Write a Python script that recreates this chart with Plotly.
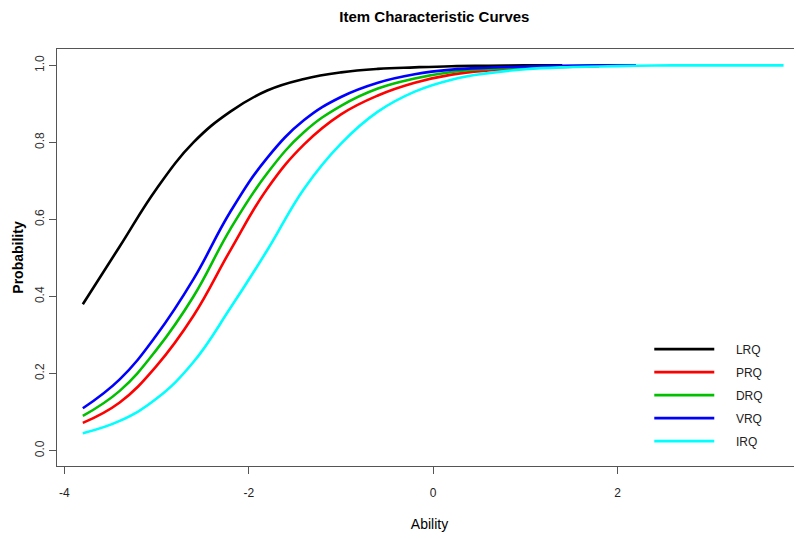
import plotly.graph_objects as go

# ability grid (step 0.4) and item probabilities
ability = [-3.8, -3.4, -3.0, -2.6, -2.2, -1.8, -1.4, -1.0, -0.6, -0.2,
           0.2, 0.6, 1.0, 1.4, 1.8, 2.2, 2.6, 3.0, 3.4, 3.8]

lrq = [0.38, 0.53, 0.68, 0.80, 0.88, 0.935, 0.965, 0.982, 0.991, 0.995,
       0.998, 0.999, 1.0, 1.0]
prq = [0.072, 0.125, 0.22, 0.35, 0.52, 0.68, 0.795, 0.873, 0.922, 0.955,
       0.976, 0.987, 0.993, 0.996, 0.998]
drq = [0.09, 0.155, 0.262, 0.40, 0.575, 0.72, 0.827, 0.895, 0.94, 0.966,
       0.983, 0.991, 0.995, 0.998, 0.999]
vrq = [0.11, 0.185, 0.30, 0.445, 0.62, 0.76, 0.858, 0.918, 0.955, 0.977,
       0.989, 0.994, 0.997, 0.999, 1.0, 1.0]
irq = [0.045, 0.077, 0.135, 0.23, 0.37, 0.52, 0.68, 0.797, 0.88, 0.932,
       0.963, 0.980, 0.990, 0.995, 0.997, 0.999, 1.0, 1.0, 1.0, 1.0]

series = [
    ("LRQ", lrq, "#000000"),
    ("PRQ", prq, "#ff0000"),
    ("DRQ", drq, "#00c000"),
    ("VRQ", vrq, "#0000ff"),
    ("IRQ", irq, "#00ffff"),
]

x_ticks = [-4, -2, 0, 2, 4]
x_ticktext = ["-4", "-2", "0", "2", "4"]
y_ticks = [0, 0.2, 0.4, 0.6, 0.8, 1.0]
y_ticktext = ["0.0", "0.2", "0.4", "0.6", "0.8", "1.0"]

narrow = "Liberation Sans Narrow, Arial Narrow, Liberation Sans, Arial"
regular = "Liberation Sans, Arial"
axis_col = "#555555"

fig = go.Figure()
for name, vals, col in series:
    fig.add_trace(go.Scatter(
        x=ability[:len(vals)], y=vals, mode="lines",
        name="\u00a0\u00a0\u00a0\u00a0\u00a0" + name, legendgroup=name,
        line=dict(color=col, width=2.6, shape="spline", smoothing=1.2)
    ))

# page body has an 8px margin: figure is sized to fit inside the window
fig.update_layout(
    width=794, height=531,
    margin=dict(l=49, r=0, t=41, b=73),
    plot_bgcolor="white", paper_bgcolor="white",
    title=dict(text="<b>Item Characteristic Curves</b>", x=0.537, xanchor="center",
               xref="container", y=0.983, yanchor="middle", yref="container",
               font=dict(family=narrow, size=15, color="#000000")),
    showlegend=True,
    legend=dict(x=0.795, y=0.315, xanchor="left", yanchor="top",
                bgcolor="rgba(0,0,0,0)", borderwidth=0,
                font=dict(family=narrow, size=12, color="#222222"),
                tracegroupgap=4, itemwidth=60),
)

fig.update_xaxes(
    range=[-4.08, 4.0], tickvals=x_ticks, ticktext=x_ticktext,
    showgrid=False, zeroline=False,
    showline=True, linecolor=axis_col, linewidth=1.2, mirror=True,
    ticks="outside", ticklen=7, tickcolor=axis_col, ticklabelstandoff=8,
    tickfont=dict(family=narrow, size=12, color="#222222"),
    title=dict(text="Ability", standoff=20,
               font=dict(family=narrow, size=14, color="#000000")),
)
fig.update_yaxes(
    range=[-0.04, 1.0426], tickvals=y_ticks, ticktext=y_ticktext, tickangle=-90,
    showgrid=False, zeroline=False,
    showline=True, linecolor=axis_col, linewidth=1.2,
    ticks="outside", ticklen=7, tickcolor=axis_col,
    tickfont=dict(family=regular, size=12, color="#333333"),
    title=dict(text="<b>Probability</b>", standoff=6,
               font=dict(family=regular, size=14, color="#000000")),
)

fig.write_html("out.html")
